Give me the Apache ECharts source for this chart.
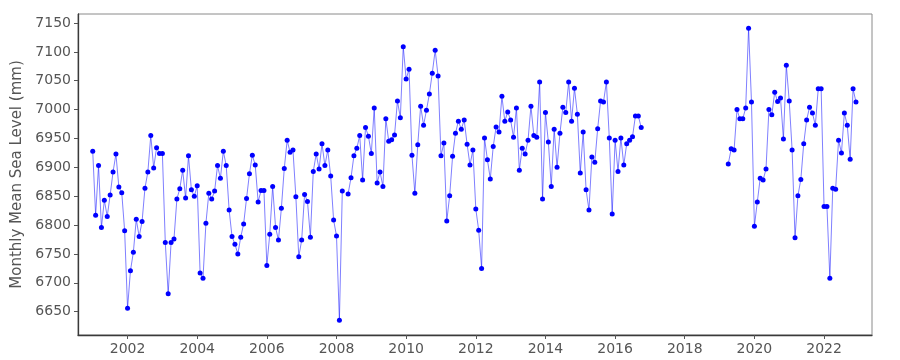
<!DOCTYPE html>
<html>
<head>
<meta charset="utf-8">
<script src="https://cdn.jsdelivr.net/npm/echarts@6/dist/echarts.min.js"></script>
<style>
  html, body { margin: 0; padding: 0; background: #fff; }
  #chart { width: 900px; height: 360px; }
</style>
</head>
<body>
<div id="chart"></div>
<script>
// Monthly mean sea level (mm); null = missing month
const months1 = [
  '2001-01','2001-02','2001-03','2001-04','2001-05','2001-06','2001-07','2001-08','2001-09','2001-10','2001-11','2001-12',
  '2002-01','2002-02','2002-03','2002-04','2002-05','2002-06','2002-07','2002-08','2002-09','2002-10','2002-11','2002-12',
  '2003-01','2003-02','2003-03','2003-04','2003-05','2003-06','2003-07','2003-08','2003-09','2003-10','2003-11','2003-12',
  '2004-01','2004-02','2004-03','2004-04','2004-05','2004-06','2004-07','2004-08','2004-09','2004-10','2004-11','2004-12',
  '2005-01','2005-02','2005-03','2005-04','2005-05','2005-06','2005-07','2005-08','2005-09','2005-10','2005-11','2005-12',
  '2006-01','2006-02','2006-03','2006-04','2006-05','2006-06','2006-07','2006-08','2006-09','2006-10','2006-11','2006-12',
  '2007-01','2007-02','2007-03','2007-04','2007-05','2007-06','2007-07','2007-08','2007-09','2007-10','2007-11','2007-12',
  '2008-01','2008-02','2008-03','2008-04','2008-05','2008-06','2008-07','2008-08','2008-09','2008-10','2008-11','2008-12',
  '2009-01','2009-02','2009-03','2009-04','2009-05','2009-06','2009-07','2009-08','2009-09','2009-10','2009-11','2009-12',
  '2010-01','2010-02','2010-03','2010-04','2010-05','2010-06','2010-07','2010-08','2010-09','2010-10','2010-11','2010-12',
  '2011-01','2011-02','2011-03','2011-04','2011-05','2011-06','2011-07','2011-08','2011-09','2011-10','2011-11','2011-12',
  '2012-01','2012-02','2012-03','2012-04','2012-05','2012-06','2012-07','2012-08','2012-09','2012-10','2012-11','2012-12',
  '2013-01','2013-02','2013-03','2013-04','2013-05','2013-06','2013-07','2013-08','2013-09','2013-10','2013-11','2013-12',
  '2014-01','2014-02','2014-03','2014-04','2014-05','2014-06','2014-07','2014-08','2014-09','2014-10','2014-11','2014-12',
  '2015-01','2015-02','2015-03','2015-04','2015-05','2015-06','2015-07','2015-08','2015-09','2015-10','2015-11','2015-12',
  '2016-01','2016-02','2016-03','2016-04','2016-05','2016-06','2016-07','2016-08','2016-09','2016-10'
];
const levels1 = [
  6928,6817,6903,6796,6843,6815,6852,6892,6923,6866,6856,6790,
  6656,6721,6753,6810,6780,6806,6864,6892,6955,6899,6934,6924,
  6924,6770,6681,6770,6776,6845,6863,6895,6847,6920,6861,6850,
  6868,6717,6708,6803,6855,6845,6859,6903,6881,6928,6903,6826,
  6780,6767,6750,6779,6802,6846,6889,6921,6904,6840,6860,6860,
  6730,6784,6867,6796,6774,6829,6898,6947,6926,6930,6849,6745,
  6774,6853,6841,6779,6893,6923,6897,6941,6903,6930,6885,6809,
  6781,6635,6859,null,6854,6882,6920,6933,6955,6878,6969,6954,
  6924,7003,6873,6892,6867,6984,6945,6948,6956,7015,6986,7109,
  7053,7070,6921,6855,6939,7006,6973,6999,7027,7063,7103,7058,
  6920,6942,6807,6851,6919,6959,6980,6966,6982,6940,6904,6930,
  6828,6791,6725,6951,6913,6880,6936,6970,6961,7023,6980,6996,
  6982,6952,7003,6895,6933,6923,6947,7006,6955,6952,7048,6845,
  6995,6944,6867,6966,6900,6959,7004,6995,7048,6980,7037,6992,
  6890,6961,6861,6826,6918,6909,6967,7015,7013,7048,6951,6819,
  6947,6893,6951,6904,6941,6947,6953,6989,6989,6969
];
const months2 = [
  '2019-04','2019-05','2019-06','2019-07','2019-08','2019-09','2019-10','2019-11','2019-12',
  '2020-01','2020-02','2020-03','2020-04','2020-05','2020-06','2020-07','2020-08','2020-09','2020-10','2020-11','2020-12',
  '2021-01','2021-02','2021-03','2021-04','2021-05','2021-06','2021-07','2021-08','2021-09','2021-10','2021-11','2021-12',
  '2022-01','2022-02','2022-03','2022-04','2022-05','2022-06','2022-07','2022-08','2022-09','2022-10','2022-11','2022-12'
];
const levels2 = [
  6906,6932,6930,7000,6984,6984,7003,7141,7013,
  6798,6840,6881,6878,6897,7000,6991,7030,7014,7020,6949,7077,
  7015,6930,6778,6851,6879,6941,6982,7004,6994,6973,7036,7036,
  6832,6832,6708,6864,6862,6947,6925,6994,6973,6914,7036,7013
];
const yearTicks = [2002,2004,2006,2008,2010,2012,2014,2016,2018,2020,2022];
const levelTicks = [6650,6700,6750,6800,6850,6900,6950,7000,7050,7100,7150];

function toYear(s) {
  const p = s.split('-');
  return Number(p[0]) + (Number(p[1]) - 1) / 12;
}
const seriesData = [];
months1.forEach((m, i) => seriesData.push([toYear(m), levels1[i] === null ? '-' : levels1[i]]));
seriesData.push([2018, '-']); // data gap between records
months2.forEach((m, i) => seriesData.push([toYear(m), levels2[i]]));

const font = 'DejaVu Sans';
const chart = echarts.init(document.getElementById('chart'), null, { renderer: 'canvas' });
chart.setOption({
  animation: false,
  backgroundColor: '#ffffff',
  grid: {
    left: 78, right: 28, top: 14, bottom: 25,
    show: true, borderColor: '#8a8a8a', borderWidth: 1, backgroundColor: 'transparent'
  },
  xAxis: {
    type: 'value',
    min: 2000.577, max: 2023.377,
    splitLine: { show: false },
    axisLine: { show: true, lineStyle: { color: '#3a3a3a', width: 1.3 } },
    axisTick: { show: true, length: 4, customValues: yearTicks, lineStyle: { color: '#555' } },
    axisLabel: { customValues: yearTicks, color: '#555', fontSize: 14, fontFamily: font, margin: 7,
                 formatter: v => String(v) }
  },
  yAxis: {
    type: 'value',
    min: 6609.6, max: 7165.6,
    name: 'Monthly Mean Sea Level (mm)',
    nameLocation: 'middle',
    nameGap: 46,
    nameTextStyle: { color: '#555', fontSize: 15, fontFamily: font },
    splitLine: { show: false },
    axisLine: { show: true, lineStyle: { color: '#3a3a3a', width: 1.3 } },
    axisTick: { show: true, length: 4, customValues: levelTicks, lineStyle: { color: '#555' } },
    axisLabel: { customValues: levelTicks, color: '#555', fontSize: 14, fontFamily: font, margin: 7,
                 formatter: v => String(v) }
  },
  series: [{
    type: 'line',
    data: seriesData,
    connectNulls: false,
    symbol: 'circle',
    symbolSize: 5,
    showSymbol: true,
    lineStyle: { color: 'rgba(0,0,255,0.5)', width: 1 },
    itemStyle: { color: '#0000ff' },
    emphasis: { disabled: true }
  }]
});
</script>
</body>
</html>
